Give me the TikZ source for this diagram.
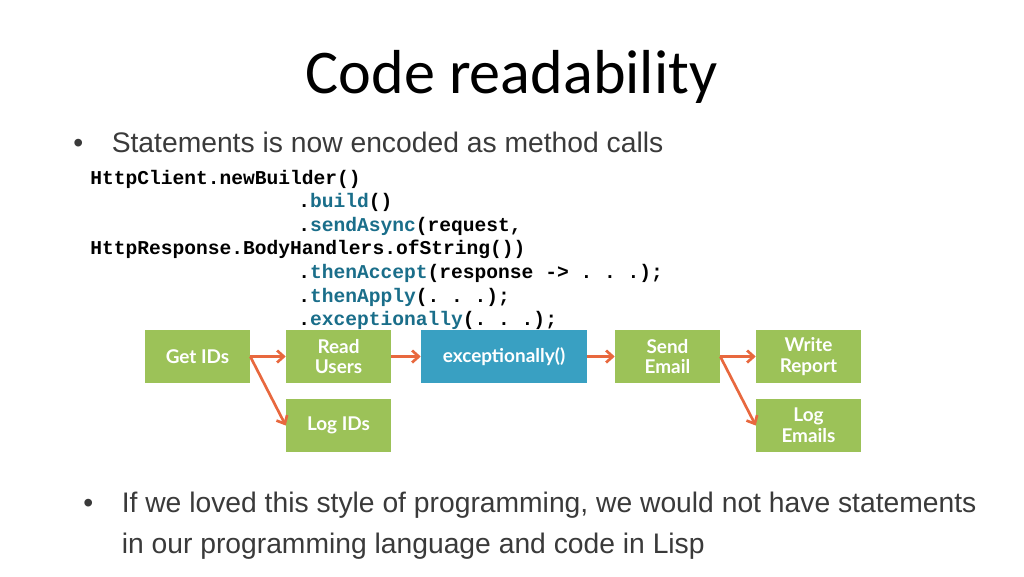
\documentclass[tikz,border=0pt]{standalone}
\usepackage{fontspec}
\setmainfont{Liberation Sans}
\setmonofont{Liberation Mono}
\newfontfamily\titlefont{Carlito}
\newfontfamily\boxfont{Lato}
\usetikzlibrary{arrows.meta}
\definecolor{boxgreen}{RGB}{156,194,88}
\definecolor{boxblue}{RGB}{57,160,194}
\definecolor{flowred}{RGB}{232,104,62}
\definecolor{codeteal}{RGB}{26,110,138}
\definecolor{bodygrey}{RGB}{58,58,58}
\newcommand\meth[1]{\textcolor{codeteal}{#1}}

\begin{document}
\begin{tikzpicture}[x=0.75pt, y=-0.75pt,
  codeline/.style={anchor=base west, inner sep=0, font=\ttfamily\bfseries\fontsize{14.7}{17}\selectfont},
  bullettext/.style={anchor=base west, inner sep=0, text=bodygrey, font=\fontsize{21.2}{25}\selectfont},
  flowbox/.style={fill=boxgreen, text=white, minimum width=78.75pt, minimum height=39.75pt, inner sep=0, align=center, font=\boxfont\bfseries\fontsize{14.2}{15.5}\selectfont},
  flowarrow/.style={draw=flowred, line width=2pt, -{Straight Barb[length=5pt,width=9pt]}}]
  \useasboundingbox[fill=white] (0,0) rectangle (1024,576);

  % title and first bullet
  \node[anchor=base, inner sep=0, font=\titlefont\fontsize{46.6}{50}\selectfont] (title) at (511.5,93) {Code readability};
  \node[bullettext] (dot1) at (73,152) {•};
  \node[bullettext] (point1) at (111.5,152) {Statements is now encoded as method calls};

  % the code
  \node[codeline] (code1) at (90,184) {HttpClient.newBuilder()};
  \node[codeline] (code2) at (298,207.6) {.\meth{build}()};
  \node[codeline] (code3) at (298,231.2) {.\meth{sendAsync}(request,};
  \node[codeline] (code4) at (90,254.8) {HttpResponse.BodyHandlers.ofString())};
  \node[codeline] (code5) at (298,278.4) {.\meth{thenAccept}(response -> . . .);};
  \node[codeline] (code6) at (298,302) {.\meth{thenApply}(. . .);};
  \node[codeline] (code7) at (298,325.6) {.\meth{exceptionally}(. . .);};

  % the flow
  \node[flowbox] (getids) at (197.5,356.5) {Get IDs};
  \node[flowbox] (readusers) at (338.5,356.5) {Read\\Users};
  \node[flowbox] (logids) at (338.5,425.5) {Log IDs};
  \node[flowbox, fill=boxblue, minimum width=124.5pt] (except) at (504,356.5) {exceptionally()};
  \node[flowbox] (sendemail) at (667.5,356.5) {Send\\Email};
  \node[flowbox] (writereport) at (808.5,356.5) {Write\\Report};
  \node[flowbox] (logemails) at (808.5,425.5) {Log\\Emails};

  \draw[flowarrow] (getids.east) -- (readusers.west);
  \draw[flowarrow] (getids.east) -- (logids.west);
  \draw[flowarrow] (readusers.east) -- (except.west);
  \draw[flowarrow] (except.east) -- (sendemail.west);
  \draw[flowarrow] (sendemail.east) -- (writereport.west);
  \draw[flowarrow] (sendemail.east) -- (logemails.west);

  % second bullet
  \node[bullettext] (dot2) at (83,512) {•};
  \node[bullettext] (point2) at (121.5,512) {If we loved this style of programming, we would not have statements};
  \node[bullettext] (point2b) at (121.5,553) {in our programming language and code in Lisp};
\end{tikzpicture}
\end{document}
